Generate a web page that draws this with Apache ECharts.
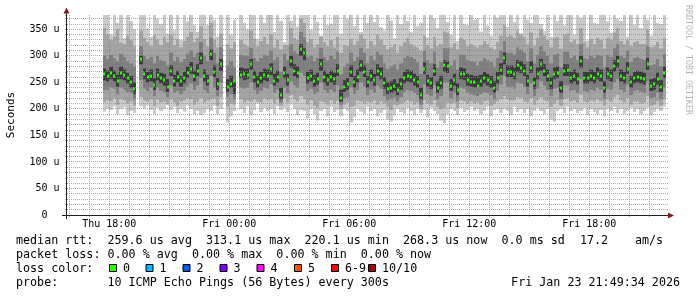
<!DOCTYPE html>
<html><head><meta charset="utf-8">
<script src="https://cdn.jsdelivr.net/npm/echarts@6/dist/echarts.min.js"></script>
<style>html,body{margin:0;padding:0;background:#fff}#c{width:697px;height:297px}</style>
</head><body><div id="c"></div>
<script>
// ---- time axis (hours since Thu 00:00) ----
const X_MIN = 15.885;           // left edge of the 30 h window
const X_MAX = X_MIN + 30;
const Y_MAX = 377;              // top of plot, microseconds
const SLOT_START_H = 17 + 40/60; // first 10-min slot: Thu 17:40
const SLOT_STEP_H = 10/60;

const xTickHours  = [18, 24, 30, 36, 42];
const xTickLabels = ['Thu 18:00', 'Fri 00:00', 'Fri 06:00', 'Fri 12:00', 'Fri 18:00'];
const yTickValues = [0, 50, 100, 150, 200, 250, 300, 350];
const yTickLabels = ['0  ', '50 u', '100 u', '150 u', '200 u', '250 u', '300 u', '350 u'];
const vGridHours = [16,17,18,19,20,21,22,23,24,25,26,27,28,29,30,31,32,33,34,35,36,37,38,39,40,41,42,43,44,45];
const hGridValues = [10,20,30,40,50,60,70,80,90,100,110,120,130,140,150,160,170,180,190,200,210,220,230,240,250,260,270,280,290,300,310,320,330,340,350,360,370];

// ---- median RTT per 10-min slot (us) ----
const median = [
266,262,268,262,252,268,264,258,250,238,
null,294,266,260,262,245,264,258,254,242,
272,252,260,252,258,268,276,262,272,296,
262,253,304,270,246,284,null,242,246,252,
null,263,266,263,285,260,250,258,264,262,
275,253,260,226,268,254,290,272,268,313,
305,258,262,252,256,284,260,254,260,256,
272,221,242,246,270,250,261,282,270,250,
262,255,272,266,248,238,240,244,236,246,
258,262,260,255,250,226,276,252,248,272,
240,248,282,280,244,254,236,266,265,254,
251,250,244,252,258,254,250,240,258,274,
296,270,270,266,282,278,272,252,278,248,
266,284,272,262,248,266,268,240,272,273,
258,262,256,290,258,258,262,258,266,262,
240,266,262,280,290,262,258,276,250,258,
260,258,256,285,244,246,256,242,268];

// ---- smoke: outer band (min..max of 10 pings) ----
const pingMax = [
377,377,340,377,362,377,333,377,366,350,
null,377,377,352,336,377,370,360,377,342,
377,348,377,330,377,365,377,358,345,377,
377,358,377,368,336,377,null,377,340,368,
null,377,362,350,377,377,332,377,362,377,
377,345,377,366,326,377,366,377,355,377,
377,377,350,377,364,338,377,358,360,377,
377,342,377,370,377,356,377,345,377,362,
377,364,377,354,348,377,367,333,377,360,
377,366,345,377,356,362,377,335,377,370,
352,377,377,364,340,377,328,377,360,358,
377,368,370,346,377,357,338,377,372,377,
377,355,377,364,377,343,377,368,362,377,
377,360,347,377,336,377,366,377,357,377,
377,340,377,372,377,329,377,362,360,377,
377,365,344,377,370,366,377,336,377,358,
377,352,377,368,338,377,362,360,377];
const pingMin = [
195,200,198,205,190,200,203,188,196,192,
null,205,200,206,198,190,202,196,200,208,
198,204,192,200,195,206,200,190,196,188,
192,200,196,206,190,200,null,174,186,196,
null,200,192,205,188,198,210,194,202,196,
200,190,205,198,202,194,208,200,188,198,
196,182,200,190,178,196,200,186,204,194,
198,186,200,196,174,184,200,195,190,204,
196,200,186,192,198,180,176,188,200,194,
190,202,196,188,200,192,198,184,202,196,
190,178,173,190,200,196,188,202,194,198,
204,196,200,190,196,204,186,198,200,192,
200,196,188,204,194,200,192,200,186,196,
202,196,190,200,180,176,196,200,192,204,
196,200,192,196,202,188,200,194,190,198,
186,200,196,204,192,200,190,196,202,194,
200,190,196,202,188,194,200,196,204];
// ---- smoke: 2nd..9th ping ----
const ping9 = [
352,340,330,336,350,325,322,338,330,318,
null,348,334,326,318,340,330,320,336,326,
340,320,332,316,328,336,345,326,334,356,
332,318,362,330,316,342,null,322,314,326,
null,330,322,318,348,332,318,328,336,322,
340,316,330,312,320,320,352,334,330,370,
362,326,332,316,322,336,326,318,330,316,
336,306,320,318,332,320,328,340,332,314,
328,318,340,330,320,312,316,322,306,318,
326,334,322,318,316,310,338,320,314,336,
318,322,346,344,316,324,312,334,330,318,
322,318,316,320,328,322,316,312,326,338,
358,336,338,334,348,340,336,322,344,318,
334,350,338,330,316,334,336,314,340,342,
326,330,322,352,326,316,332,322,334,330,
314,334,330,344,352,328,322,330,318,326,
328,322,322,350,316,318,326,314,334];
const ping2 = [
212,216,214,220,208,218,216,210,214,206,
null,222,216,214,218,206,218,212,214,208,
218,212,206,214,216,220,218,208,214,220,
212,216,218,220,206,222,null,204,210,208,
null,218,212,216,214,218,214,212,220,216,
218,210,218,206,220,212,226,218,214,224,
218,208,216,206,202,214,212,208,216,210,
216,200,208,212,204,206,216,214,210,214,
212,216,208,214,210,204,198,208,206,210,
212,216,214,208,212,200,216,210,208,216,
204,200,202,212,210,212,202,216,214,210,
214,210,212,208,214,216,206,210,214,218,
224,218,216,216,222,220,214,212,220,208,
216,222,216,214,204,210,216,206,218,220,
214,216,212,226,214,212,216,214,218,214,
206,218,214,222,226,216,212,220,208,214,
214,210,212,224,206,208,214,206,218];
// ---- smoke: 3rd..8th ping ----
const ping8 = [
300,294,302,296,290,304,298,290,286,280,
null,318,300,294,298,286,300,292,290,282,
306,290,298,288,294,304,310,298,306,326,
300,290,334,306,286,316,null,282,290,278,
null,302,300,300,315,296,290,296,302,300,
310,292,298,270,304,292,322,308,304,345,
335,298,300,290,296,315,298,292,300,294,
308,265,280,286,306,290,298,315,306,286,
300,292,308,302,286,276,280,284,274,286,
296,300,298,294,288,266,310,292,286,308,
278,288,315,314,282,292,274,302,302,292,
290,288,282,290,296,292,288,278,296,310,
328,306,306,302,316,312,306,290,314,286,
302,318,308,300,286,302,304,278,308,308,
296,300,292,322,296,294,300,296,302,300,
278,302,298,314,322,300,296,310,288,296,
298,294,292,318,282,284,294,280,304];
const ping3 = [
235,236,240,238,228,240,236,232,230,218,
null,254,238,234,240,224,240,234,230,222,
244,230,234,228,234,242,248,236,244,258,
236,230,262,240,224,250,null,222,228,218,
null,240,238,240,250,236,228,234,240,238,
246,230,236,212,240,230,252,244,240,268,
262,234,238,228,232,250,236,230,236,232,
244,208,220,222,240,228,236,250,242,226,
236,230,244,238,224,216,218,222,214,222,
232,236,234,230,226,208,246,228,224,244,
218,224,250,250,220,230,214,240,238,230,
228,226,224,228,232,230,226,218,234,246,
262,242,242,238,250,248,242,228,248,224,
238,252,244,236,224,238,240,218,244,244,
234,236,230,256,234,232,236,234,240,236,
218,238,236,250,256,236,232,246,226,234,
236,232,230,252,220,222,230,218,240];
// ---- smoke: inner pings ----
const ping7 = [
276,272,280,272,264,280,274,268,262,250,
null,300,276,270,274,258,276,268,266,256,
282,264,272,262,270,280,288,272,284,306,
274,264,312,282,258,294,null,256,262,252,
null,278,276,276,294,272,262,270,276,274,
286,266,272,240,280,266,300,284,280,322,
314,270,274,264,268,294,272,266,272,268,
284,236,254,258,282,262,274,292,282,262,
274,266,284,278,260,250,252,256,248,258,
270,274,272,266,262,240,288,264,260,284,
252,262,292,290,256,266,248,278,276,266,
264,262,262,264,270,266,262,252,270,286,
306,282,282,278,292,290,284,264,290,260,
278,294,284,274,260,278,280,252,284,284,
270,274,268,300,270,270,274,270,278,274,
252,278,274,292,300,274,270,288,262,270,
272,270,268,296,256,258,268,254,280];
const ping4 = [
254,252,256,252,242,256,254,248,240,228,
null,284,256,250,252,236,254,248,244,232,
262,242,250,242,248,258,266,252,262,284,
252,244,292,260,236,272,null,232,240,228,
null,258,254,256,274,250,240,248,254,252,
264,244,250,218,258,244,278,262,258,300,
292,248,252,242,246,272,250,244,250,246,
262,214,232,236,260,240,250,270,260,240,
252,244,262,256,238,228,230,234,226,236,
248,252,250,244,240,218,266,242,238,262,
230,238,270,268,234,244,226,256,254,244,
242,240,240,242,248,244,240,230,248,264,
284,260,260,256,270,268,262,242,268,238,
256,272,262,252,238,256,258,230,262,262,
248,252,246,278,248,248,252,248,256,252,
230,256,252,270,278,252,248,266,240,248,
250,248,246,274,234,236,246,232,258];

// ---- legend texts ----
const statLine1 = 'median rtt:  259.6 us avg  313.1 us max  220.1 us min  268.3 us now  0.0 ms sd';
const statSd = '17.2';
const statUnit = 'am/s';
const statLine2 = 'packet loss: 0.00 % avg  0.00 % max  0.00 % min  0.00 % now';
const lossTitle = 'loss color:';
const lossLabels = ['0', '1', '2', '3', '4', '5', '6-9', '10/10'];
const lossColors = ['#26ff00', '#00b8ff', '#0059ff', '#7e00ff', '#ff00ff', '#ff5500', '#ff0000', '#a10000'];
const probeLine = 'probe:       10 ICMP Echo Pings (56 Bytes) every 300s';
const stampText = 'Fri Jan 23 21:49:34 2026';
const watermark = 'RRDTOOL / TOBI OETIKER';

// ---- styles ----
const GRID_C = 'rgba(143,143,143,0.75)';
const MGRID_C = 'rgba(222,79,79,0.6)';
const MONO = '"DejaVu Sans Mono", monospace';
const LEG_FONT = '11.7px ' + MONO;

function bandData(lo, hi) {
  const out = [];
  for (let i = 0; i < lo.length; i++) {
    if (lo[i] == null || hi[i] == null) continue;
    out.push([SLOT_START_H + i * SLOT_STEP_H, lo[i], hi[i]]);
  }
  return out;
}
function bandSeries(lo, hi, color, z) {
  return {
    type: 'custom', silent: true, clip: true, z: z,
    encode: {x: 0, y: [1, 2]},
    data: bandData(lo, hi),
    renderItem: function (params, api) {
      const t = api.value(0), lo = api.value(1), hi = api.value(2);
      const a = api.coord([t, hi]), b = api.coord([t + SLOT_STEP_H, lo]);
      const x0 = Math.round(a[0]), x1 = Math.round(b[0]);
      return {type: 'rect', shape: {x: x0, y: a[1], width: x1 - x0, height: b[1] - a[1]}, style: {fill: color}};
    }
  };
}
const medianData = [];
median.forEach(function (v, i) { if (v != null) medianData.push([SLOT_START_H + i * SLOT_STEP_H, v]); });

const series = [
  bandSeries(pingMin, pingMax, '#cacaca', 2),
  bandSeries(ping2, ping9, '#a4a4a4', 3),
  bandSeries(ping3, ping8, '#7e7e7e', 4),
  bandSeries(ping4, ping7, '#3a3a3a', 5),
  { // vertical grid
    type: 'custom', silent: true, clip: false, z: 8,
    data: vGridHours.map(function (h) { return [h, 0]; }),
    renderItem: function (params, api) {
      const cs = params.coordSys, h = api.value(0);
      const x = Math.floor(api.coord([h, 0])[0]) + 0.5;
      return {type: 'line', shape: {x1: x, y1: cs.y, x2: x, y2: cs.y + cs.height},
        style: {stroke: h % 3 === 0 ? MGRID_C : GRID_C, lineWidth: 1, lineDash: [1, 1]}};
    }
  },
  { // horizontal grid
    type: 'custom', silent: true, clip: false, z: 8,
    data: hGridValues.map(function (v) { return [X_MIN, v]; }),
    renderItem: function (params, api) {
      const cs = params.coordSys, v = api.value(1);
      const y = Math.floor(api.coord([X_MIN, v])[1]) + 0.5;
      return {type: 'line', shape: {x1: cs.x, y1: y, x2: cs.x + cs.width + 1, y2: y},
        style: {stroke: v % 50 === 0 ? MGRID_C : GRID_C, lineWidth: 1, lineDash: [1, 1]}};
    }
  },
  { // median, coloured by loss (0 loss)
    type: 'custom', silent: true, clip: true, z: 10,
    data: medianData,
    renderItem: function (params, api) {
      const t = api.value(0), v = api.value(1);
      const a = api.coord([t + SLOT_STEP_H / 2, v]);
      const x0 = Math.round(a[0] - 1);
      return {type: 'rect', shape: {x: x0, y: Math.round(a[1]) - 1.5, width: 2, height: 3}, style: {fill: lossColors[0]}};
    }
  }
];

const graphic = [];
// axes with arrows
graphic.push({type: 'line', shape: {x1: 66.5, y1: 219, x2: 66.5, y2: 10}, style: {stroke: '#1f1f1f', lineWidth: 1}, z: 20});
graphic.push({type: 'polygon', shape: {points: [[63.5, 13.5], [69.5, 13.5], [66.5, 7.5]]}, style: {fill: '#801f1f'}, z: 21});
graphic.push({type: 'line', shape: {x1: 62, y1: 215.5, x2: 670, y2: 215.5}, style: {stroke: '#1f1f1f', lineWidth: 1}, z: 20});
graphic.push({type: 'polygon', shape: {points: [[668, 212.5], [668, 218.5], [674, 215.5]]}, style: {fill: '#801f1f'}, z: 21});
// axis title + watermark
graphic.push({type: 'text', x: 11, y: 115, rotation: Math.PI / 2, style: {text: 'Seconds', font: '11px ' + MONO, fill: '#000', align: 'center', verticalAlign: 'middle'}, z: 20});
graphic.push({type: 'text', x: 688, y: 5, rotation: -Math.PI / 2, style: {text: watermark, font: '8.3px ' + MONO, fill: '#b4b4b4', align: 'left', verticalAlign: 'middle'}, z: 20});
// legend lines
const L = [241, 255, 268.5, 282.5];
function txt(s, x, y, align) {
  return {type: 'text', x: x, y: y, style: {text: s, font: LEG_FONT, fill: '#000', align: align || 'left', verticalAlign: 'middle'}, z: 20};
}
graphic.push(txt(statLine1, 16, L[0]));
graphic.push(txt(statSd, 580, L[0]));
graphic.push(txt(statUnit, 635, L[0]));
graphic.push(txt(statLine2, 16, L[1]));
graphic.push(txt(lossTitle, 16, L[2]));
const boxX = [109, 145.5, 182.5, 219.5, 256.5, 294, 331, 368];
lossLabels.forEach(function (lab, i) {
  graphic.push({type: 'rect', shape: {x: boxX[i] + 0.5, y: Math.round(L[2]) - 4.5, width: 7, height: 7}, style: {fill: lossColors[i], stroke: '#000', lineWidth: 1}, z: 20});
  graphic.push(txt(lab, boxX[i] + 14, L[2]));
});
graphic.push(txt(probeLine, 16, L[3]));
graphic.push(txt(stampText, 680, L[3], 'right'));

const option = {
  animation: false,
  backgroundColor: '#ffffff',
  grid: {left: 67, right: 30, top: 15, bottom: 82, containLabel: false},
  xAxis: {
    type: 'value', min: X_MIN, max: X_MAX,
    axisLine: {show: false},
    splitLine: {show: false},
    axisTick: {show: true, length: 2, customValues: vGridHours, lineStyle: {color: GRID_C}},
    axisLabel: {
      show: true, customValues: xTickHours, margin: 4,
      color: '#000', fontFamily: MONO, fontSize: 10,
      formatter: function (v) { const k = xTickHours.indexOf(Math.round(v)); return k >= 0 ? xTickLabels[k] : ''; }
    }
  },
  yAxis: {
    type: 'value', min: 0, max: Y_MAX, interval: 10,
    axisLine: {show: false},
    splitLine: {show: false},
    axisTick: {show: true, length: 2, lineStyle: {color: GRID_C}},
    axisLabel: {
      show: true, customValues: yTickValues, margin: 7.5,
      color: '#000', fontFamily: MONO, fontSize: 10,
      formatter: function (v) { const k = yTickValues.indexOf(Math.round(v)); return k >= 0 ? yTickLabels[k] : ''; }
    }
  },
  series: series,
  graphic: graphic
};
const chart = echarts.init(document.getElementById('c'));
chart.setOption(option);
</script>
</body></html>
